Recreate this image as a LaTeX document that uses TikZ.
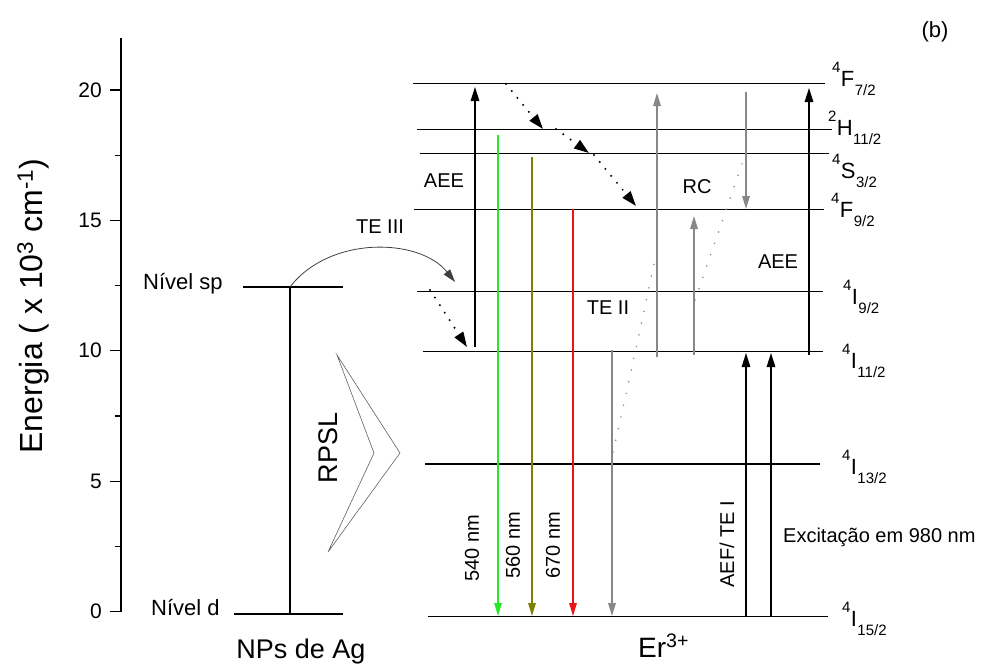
\documentclass[tikz,border=0pt]{standalone}
\usepackage{fontspec}
\setmainfont{Liberation Sans}
\usetikzlibrary{arrows.meta}
\newcommand{\fs}[1]{\fontsize{#1}{#1}\selectfont}
\newcommand{\lvlab}[3]{\raisebox{14pt}{\fs{15}#1}\hspace{0.4pt}{\fs{22}#2}\hspace{0.4pt}\raisebox{-9pt}{\fs{15}#3}}
\definecolor{emgreen}{RGB}{40,230,40}
\definecolor{emolive}{RGB}{128,128,0}
\definecolor{emred}{RGB}{235,20,20}
\definecolor{emgray}{RGB}{135,135,135}
\begin{document}
\begin{tikzpicture}[x=1pt,y=-1pt,
  lev/.style={line width=1.3pt},
  tick/.style={line width=1.2pt},
  txt/.style={inner sep=0pt,font=\fs{20}},
  upbk/.style={line width=1.5pt,-{Triangle[width=8.5pt,length=14pt]}},
  dnc/.style={line width=1.5pt,-{Triangle[width=7.5pt,length=13pt]}},
  dotarr/.style={line width=2.2pt,line cap=round,dash pattern=on 0pt off 9pt,-{Triangle[width=10pt,length=15pt]}},
  dotgray/.style={emgray,line width=1.7pt,line cap=round,dash pattern=on 0pt off 12pt}
]
\useasboundingbox (0,0) rectangle (982,664);

% axis
\draw[tick] (121,38) -- (121,612);
\foreach \v/\l in {0/0,5/5,10/10,15/15,20/20}{
  \draw[tick] (110,{611.5-26.08*\v}) -- (121,{611.5-26.08*\v});
  \node[txt,anchor=east,font=\fs{21}] (t\v) at (102,{611.5-26.08*\v}) {\l};
}
\foreach \v in {2.5,7.5,12.5,17.5}{
  \draw[tick] (115,{611.5-26.08*\v}) -- (121,{611.5-26.08*\v});
}
\node[txt,rotate=90,font=\fs{32}] (ylab) at (33,306) {Energia ( x 10\textsuperscript{3} cm\textsuperscript{-1})};

% Ag nanoparticles
\draw[lev] (243,287) -- (343,287);
\draw[lev] (234,614) -- (343,614);
\draw[lev] (290,287) -- (290,614);
\node[txt,anchor=base west,font=\fs{22}] (nsp) at (143,289) {Nível sp};
\node[txt,anchor=base west,font=\fs{22}] (nd) at (151,615) {Nível d};
\node[txt,anchor=base,font=\fs{27}] (npag) at (301,658) {NPs de Ag};
\node[txt,rotate=90,font=\fs{27}] (rpsl) at (328,448) {RPSL};
\draw[emgray!70!black,line width=0.6pt,line join=miter] (337,355) -- (400,453) -- (328,552) -- (374,453) -- cycle;

% TE III
\draw[line width=0.8pt,black!75,-{Triangle[width=8pt,length=13pt]}] (290,287) .. controls (330,235) and (420,238) .. (455,282);
\node[txt] (te3) at (380,227) {TE III};

% Er levels
\draw[lev] (413,83.3) -- (825,83.3);
\draw[lev] (417,129.3) -- (832,129.3);
\draw[lev] (420,153.3) -- (829,153.3);
\draw[lev] (414,209.3) -- (824,209.3);
\draw[lev] (417,291.7) -- (823,291.7);
\draw[lev] (423,351.7) -- (823,351.7);
\draw[lev] (425,464) -- (820,464);
\draw[lev] (428,616.7) -- (828,616.7);

\node[inner sep=0pt,anchor=base west] (lF72) at (832,86) {\lvlab{4}{F}{7/2}};
\node[inner sep=0pt,anchor=base west] (lH112) at (828,135) {\lvlab{2}{H}{11/2}};
\node[inner sep=0pt,anchor=base west] (lS32) at (832,178) {\lvlab{4}{S}{3/2}};
\node[inner sep=0pt,anchor=base west] (lF92) at (831,217) {\lvlab{4}{F}{9/2}};
\node[inner sep=0pt,anchor=base west] (lI92) at (843,304) {\lvlab{4}{I}{9/2}};
\node[inner sep=0pt,anchor=base west] (lI112) at (842,368) {\lvlab{4}{I}{11/2}};
\node[inner sep=0pt,anchor=base west] (lI132) at (842,474) {\lvlab{4}{I}{13/2}};
\node[inner sep=0pt,anchor=base west] (lI152) at (842,626) {\lvlab{4}{I}{15/2}};

% black up arrows
\draw[upbk] (475,347) -- (475,87);
\draw[upbk] (809,355) -- (809,88);
\draw[upbk] (746,616) -- (746,353);
\draw[upbk] (771,616) -- (771,353);

% emissions
\draw[dnc,emgreen] (498,135) -- (498,616);
\draw[dnc,emolive] (532,157) -- (532,616);
\draw[dnc,emred] (573,209) -- (573,616);
\draw[dnc,emgray] (612,350) -- (612,616);

% gray RC arrows
\draw[dnc,emgray] (657,357) -- (657,93);
\draw[dnc,emgray] (694,355) -- (694,216);
\draw[dnc,emgray] (746,92) -- (746,209);

% dotted relaxations
\draw[dotarr] (506,84) -- (543,129);
\draw[dotarr] (556,129) -- (589,153);
\draw[dotarr] (594,155) -- (636,206);
\draw[dotarr] (430,290) -- (467,347);

% dotted gray energy transfer paths
\draw[dotgray] (613,452) .. controls (625,400) and (640,330) .. (655,259);
\draw[dotgray] (695,300) -- (744,158);

% labels
\node[txt] (aee1) at (444,181) {AEE};
\node[txt] (rc) at (697,187) {RC};
\node[txt] (aee2) at (778,262) {AEE};
\node[txt] (te2) at (608,308) {TE II};
\node[txt,rotate=90] (n540) at (472,548) {540 nm};
\node[txt,rotate=90] (n560) at (513,545) {560 nm};
\node[txt,rotate=90] (n670) at (553,545) {670 nm};
\node[txt,rotate=90] (aef) at (727,544) {AEF/ TE I};
\node[txt,anchor=west] (exc) at (783,537) {Excitação em 980 nm};
\node[txt,anchor=base west,font=\fs{28}] (er) at (638,657) {Er\textsuperscript{3+}};
\node[txt,font=\fs{22}] (b) at (935,32) {(b)};
\end{tikzpicture}
\end{document}
